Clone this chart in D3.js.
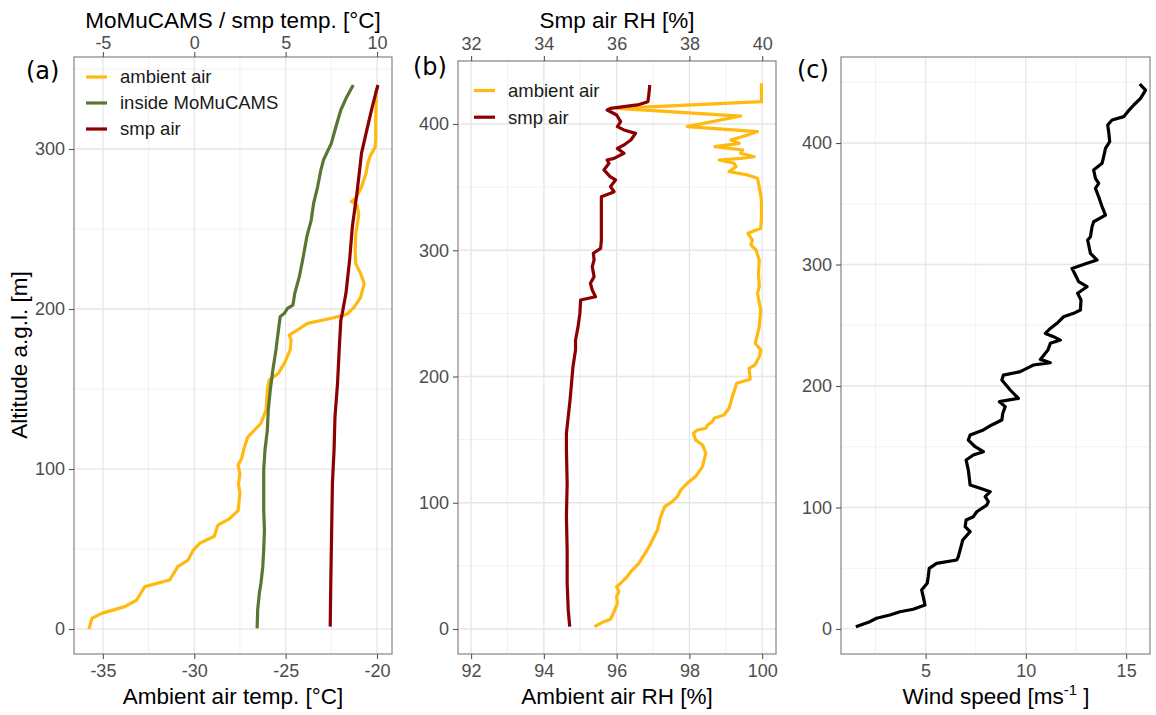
<!DOCTYPE html>
<html>
<head>
<meta charset="utf-8">
<script src="https://cdn.jsdelivr.net/npm/d3@7"></script>
<style>
  body { margin: 0; background: #fff; }
  svg { font-family: "Liberation Sans", Arial, sans-serif; }
</style>
</head>
<body>
<svg id="chart" width="1156" height="715"></svg>
<script>
// ---- data: [altitude m, value] ----
// panel (a) ambient temp, bottom axis units (°C)
const ambientTemp = [
  [0,-35.76],[6.7,-35.6],[9.8,-35.07],[14,-33.8],[18,-33.16],[26.5,-32.7],[30.6,-31.35],
  [39,-30.9],[43,-30.35],[49,-30.07],[53.6,-29.7],[58,-28.9],[61.9,-28.8],[65,-28.7],
  [69,-28.07],[74,-27.6],[84.8,-27.5],[91,-27.58],[97,-27.5],[102.5,-27.6],[106.7,-27.4],
  [112,-27.3],[120,-27.07],[124.4,-26.7],[128.6,-26.35],[137,-26.07],[149.4,-26.0],
  [155.6,-25.9],[159.8,-25.4],[166,-25.07],[174.4,-24.75],[180.6,-24.7],[183.7,-24.8],
  [185.8,-24.5],[191,-23.8],[194.2,-22.5],[196.2,-21.8],[197.2,-21.6],[201.2,-21.25],
  [207.2,-20.9],[216,-20.7],[222.2,-20.9],[228.2,-21.16],[236.8,-21.2],[247.2,-21.16],
  [253.2,-21.07],[259.2,-21.0],[265,-21.1],[267.2,-21.4],[269.2,-21.16],[276.2,-20.85],
  [284.8,-20.6],[291.2,-20.5],[296.2,-20.35],[301.2,-20.1],[307.2,-20.07],[318.2,-20.07],
  [330.2,-20.04],[335.8,-20.07],[338.9,-19.95]
];
// panel (a) inside MoMuCAMS, top axis units (°C)
const momucamsTemp = [
  [0.4,3.44],[11.9,3.47],[22.3,3.56],[28.6,3.65],[39,3.75],[49.4,3.8],[61.9,3.84],
  [74.4,3.8],[86.9,3.8],[99.4,3.8],[111.9,3.87],[124.4,4.0],[136.9,4.05],[149.4,4.16],
  [161.9,4.3],[174.4,4.47],[182.7,4.56],[195.2,4.7],[197.3,4.93],[200.4,5.1],[202.5,5.4],
  [209.8,5.5],[220.2,5.75],[230.6,5.93],[245.2,6.16],[255.6,6.4],[266,6.53],[276.4,6.75],
  [286.9,6.93],[293.1,7.07],[303.5,7.5],[313.9,7.75],[324.4,8.02],[332.7,8.35],[340,8.7]
];
// panel (a) smp air, top axis units (°C)
const smpTemp = [
  [1.5,7.44],[28.6,7.47],[49.4,7.5],[70.2,7.53],[91,7.56],[111.9,7.65],[132.7,7.7],
  [153.6,7.84],[174.4,7.93],[193.1,8.02],[197.3,8.1],[209.8,8.3],[230.6,8.5],[251.4,8.65],
  [272.3,8.9],[289,9.07],[297.3,9.15],[309.8,9.4],[324.4,9.7],[334.8,9.93],[340,10.05]
];
// panel (b) ambient RH, bottom axis units (%)
const ambientRH = [
  [1.9,95.39],[5.8,95.65],[7.7,95.83],[13.7,95.93],[20.3,96.02],[25.6,96.0],[29.6,96.06],
  [33.5,96.0],[36.2,96.11],[41.5,96.29],[45.4,96.39],[52,96.61],[62.6,96.84],[67.9,96.94],
  [78.4,97.12],[89,97.21],[96.9,97.32],[100.9,97.53],[104.8,97.67],[110.1,97.76],
  [115.4,97.94],[120.7,98.17],[128.6,98.36],[139.2,98.45],[145.8,98.36],[149.7,98.17],
  [155,98.11],[157.6,98.22],[159,98.45],[161.6,98.5],[164.2,98.63],[166.9,98.68],
  [169.5,98.95],[174.8,99.09],[184,99.18],[194.6,99.3],[197.8,99.67],[206.5,99.64],
  [209.1,99.8],[215.7,99.92],[221,99.96],[226.3,99.81],[239.5,99.92],[252.7,99.96],
  [265.9,99.87],[271.2,99.92],[281.7,99.9],[292.3,99.92],[300.2,99.83],[304.2,99.69],
  [308.1,99.73],[313.4,99.61],[317.4,99.96],[326.6,99.98],[339.8,99.98],[350.4,99.92],
  [357,99.87],[359.6,99.6],[362.3,99.09],[366.2,99.28],[368.9,99.23],[371.5,98.82],
  [372.8,99.41],[374.1,99.78],[376.8,99.41],[379.4,99.46],[382.1,98.7],[384.7,99.37],
  [387.3,99.14],[391.3,99.6],[394,99.87],[397.9,97.94],[406.3,99.41],[412.4,96.02],
  [417.7,99.98],[432.2,99.98]
];
// panel (b) smp air RH, top axis units (%)
const smpRH = [
  [1.9,34.71],[15.1,34.67],[36.2,34.64],[62.6,34.64],[89,34.62],[115.4,34.64],[141.8,34.62],
  [155,34.62],[168.2,34.67],[181.4,34.72],[194.6,34.76],[207.8,34.8],[221,34.87],
  [228.9,34.87],[239.5,34.94],[250,34.99],[260.6,35.01],[263.2,35.42],[268.5,35.33],
  [273.8,35.28],[279.1,35.38],[287,35.33],[292.3,35.38],[297.6,35.36],[301.5,35.56],
  [308.1,35.58],[318.7,35.58],[331.9,35.58],[342.4,35.58],[345.1,35.83],[346.4,35.93],
  [350.4,35.83],[355.7,35.97],[358.3,35.82],[363.6,35.65],[368.9,35.79],[371.5,35.74],
  [372.8,35.93],[376.8,36.2],[380.7,36.02],[383.4,36.2],[387.3,36.39],[392.6,36.52],
  [395.3,36.2],[397.9,36.02],[401.9,36.11],[407.1,36.0],[411.1,35.74],[412.4,35.83],
  [415.1,36.57],[417.7,36.86],[424.3,36.89],[430.9,36.91]
];
// panel (c) wind speed (m/s)
const windSpeed = [
  [1.9,1.52],[6,2.22],[8.8,2.55],[11.5,3.22],[14.2,3.72],[16.2,4.38],[19.7,4.97],[26.6,4.88],
  [32.1,4.8],[37.6,5.08],[43,5.13],[49.9,5.18],[54,5.55],[56.8,6.55],[59.5,6.63],[65,6.72],
  [73.2,6.85],[80.1,7.22],[84.2,6.97],[89.7,7.02],[92.4,7.38],[96.5,7.55],[102,8.05],
  [104.8,8.13],[108.9,7.97],[113,8.22],[115.8,7.72],[118.5,7.22],[130.8,7.13],[139.1,7.02],
  [143.2,7.38],[145.9,7.88],[150,7.47],[155.5,7.13],[159.6,7.22],[163.8,7.88],[167.9,8.3],
  [172,8.8],[177.5,8.85],[183,8.97],[187.1,8.68],[189.8,9.63],[196.7,9.22],[204.9,8.8],
  [209,8.88],[211.8,9.72],[215.9,10.22],[217.3,10.38],[219.2,11.22],[221.9,10.72],
  [229.6,11.1],[235.1,11.22],[237.8,11.72],[240.6,11.38],[243.3,10.97],[247.4,11.22],
  [251.6,11.55],[257,11.88],[259.8,12.38],[262.5,12.72],[270.8,12.75],[276.3,12.58],
  [281.7,13.05],[285.9,12.63],[291.3,12.47],[296.8,12.3],[301,13.05],[303.7,13.55],
  [309.2,13.22],[320.2,13.08],[322.9,13.22],[331.1,13.3],[335.2,13.38],[340.7,13.97],
  [347.6,13.8],[355.8,13.63],[362.7,13.47],[366.8,13.63],[370.9,13.47],[377.8,13.38],
  [383.3,13.8],[388.7,13.88],[395.6,13.97],[401.1,14.18],[409.3,14.13],[414.8,14.08],
  [418.9,14.3],[421.7,14.88],[425.8,15.08],[431.3,15.38],[436.8,15.72],[443.6,15.97],
  [446.4,15.8],[448.6,15.68]
];

// ---- tick labels ----
const tempTicks = [-35, -30, -25, -20];
const tempMinor = [-32.5, -27.5, -22.5];
const momucamsTicks = [-5, 0, 5, 10];
const rhTicks = [92, 94, 96, 98, 100];
const rhMinor = [93, 95, 97, 99];
const smpRhTicks = [32, 34, 36, 38, 40];
const windTicks = [5, 10, 15];
const windMinor = [2.5, 7.5, 12.5];
const altTicksA = [0, 100, 200, 300];
const altMinorA = [50, 150, 250, 350];
const altTicksB = [0, 100, 200, 300, 400];
const altMinorB = [50, 150, 250, 350, 450];

const colAmbient = "#FFB90F", colInside = "#5B7633", colSmp = "#8B0000";

const svg = d3.select("#chart");
svg.append("rect").attr("width", 1156).attr("height", 715).attr("fill", "#fff");

// scales
const xa = d3.scaleLinear().domain([-36.58, -19.18]).range([74, 392]);
const xaTop = d3.scaleLinear().domain([-6.58, 10.82]).range([74, 392]);
const ya = d3.scaleLinear().domain([-15.6, 357.5]).range([654, 57]);

const xb = d3.scaleLinear().domain([91.64, 100.38]).range([458, 776]);
const xbTop = d3.scaleLinear().domain([31.64, 40.38]).range([458, 776]);
const yb = d3.scaleLinear().domain([-19.8, 449.9]).range([654, 61]);

const xc = d3.scaleLinear().domain([0.78, 16.19]).range([841, 1150]);
const yc = d3.scaleLinear().domain([-20.6, 470.8]).range([654, 57]);

const fmt = d => String(d);

function panel(x, y, xMaj, xMin, yMaj, yMin) {
  const g = svg.append("g");
  const [x0, x1] = x.range(), [y1, y0] = y.range();
  g.selectAll(".vmin").data(xMin).join("line")
    .attr("x1", d => x(d)).attr("x2", d => x(d)).attr("y1", y0).attr("y2", y1)
    .attr("stroke", "#f1f1f1").attr("stroke-width", 1);
  g.selectAll(".hmin").data(yMin).join("line")
    .attr("y1", d => y(d)).attr("y2", d => y(d)).attr("x1", x0).attr("x2", x1)
    .attr("stroke", "#f1f1f1").attr("stroke-width", 1);
  g.selectAll(".vmaj").data(xMaj).join("line")
    .attr("x1", d => x(d)).attr("x2", d => x(d)).attr("y1", y0).attr("y2", y1)
    .attr("stroke", "#e6e6e6").attr("stroke-width", 1.3);
  g.selectAll(".hmaj").data(yMaj).join("line")
    .attr("y1", d => y(d)).attr("y2", d => y(d)).attr("x1", x0).attr("x2", x1)
    .attr("stroke", "#e6e6e6").attr("stroke-width", 1.3);
  return g;
}

function styleAxis(g) {
  g.select(".domain").remove();
  g.selectAll(".tick line").attr("stroke", "#555").attr("stroke-width", 1.1);
  g.selectAll(".tick text").attr("fill", "#4d4d4d").style("font-size", "18px")
    .style("font-family", "'Liberation Sans', Arial, sans-serif");
}

function border(x, y) {
  const [x0, x1] = x.range(), [y1, y0] = y.range();
  svg.append("rect").attr("x", x0).attr("y", y0).attr("width", x1 - x0).attr("height", y1 - y0)
    .attr("fill", "none").attr("stroke", "#858585").attr("stroke-width", 1.2);
}

function drawLine(data, x, y, color) {
  svg.append("path").datum(data)
    .attr("fill", "none").attr("stroke", color).attr("stroke-width", 3.2)
    .attr("stroke-linejoin", "round").attr("stroke-linecap", "butt")
    .attr("d", d3.line().x(d => x(d[1])).y(d => y(d[0])));
}

function legend(items, kx, ky, step) {
  items.forEach((it, i) => {
    svg.append("line").attr("x1", kx).attr("x2", kx + 21)
      .attr("y1", ky + i * step).attr("y2", ky + i * step)
      .attr("stroke", it[1]).attr("stroke-width", 3.2);
    svg.append("text").attr("x", kx + 34).attr("y", ky + i * step).attr("dy", "0.35em")
      .style("font-size", "18.5px").attr("fill", "#1a1a1a").text(it[0]);
  });
}

function title(txt, x, y, rot) {
  const t = svg.append("text").attr("text-anchor", "middle").style("font-size", "22.5px")
    .attr("fill", "#000").text(txt);
  if (rot) t.attr("transform", `translate(${x},${y}) rotate(-90)`);
  else t.attr("x", x).attr("y", y);
  return t;
}

function tag(txt, x, y) {
  svg.append("text").attr("x", x).attr("y", y).style("font-size", "24px")
    .style("font-family", "'DejaVu Sans', sans-serif").attr("fill", "#000").text(txt);
}

// ---- panel (a) ----
panel(xa, ya, tempTicks, tempMinor, altTicksA, altMinorA);
drawLine(ambientTemp, xa, ya, colAmbient);
drawLine(momucamsTemp, xaTop, ya, colInside);
drawLine(smpTemp, xaTop, ya, colSmp);
border(xa, ya);
styleAxis(svg.append("g").attr("transform", "translate(0,654)")
  .call(d3.axisBottom(xa).tickValues(tempTicks).tickFormat(fmt).tickSize(5).tickPadding(5)));
styleAxis(svg.append("g").attr("transform", "translate(0,57)")
  .call(d3.axisTop(xaTop).tickValues(momucamsTicks).tickFormat(fmt).tickSize(5).tickPadding(3)));
styleAxis(svg.append("g").attr("transform", "translate(74,0)")
  .call(d3.axisLeft(ya).tickValues(altTicksA).tickFormat(fmt).tickSize(5).tickPadding(4)));
legend([["ambient air", colAmbient], ["inside MoMuCAMS", colInside], ["smp air", colSmp]], 86, 77, 26);
title("Ambient air temp. [°C]", 233, 704);
title("MoMuCAMS / smp temp. [°C]", 233, 28);
title("Altitude a.g.l. [m]", 27, 355, true);
tag("(a)", 26, 79);

// ---- panel (b) ----
panel(xb, yb, rhTicks, rhMinor, altTicksB, altMinorB);
drawLine(ambientRH, xb, yb, colAmbient);
drawLine(smpRH, xbTop, yb, colSmp);
border(xb, yb);
styleAxis(svg.append("g").attr("transform", "translate(0,654)")
  .call(d3.axisBottom(xb).tickValues(rhTicks).tickFormat(fmt).tickSize(5).tickPadding(5)));
styleAxis(svg.append("g").attr("transform", "translate(0,61)")
  .call(d3.axisTop(xbTop).tickValues(smpRhTicks).tickFormat(fmt).tickSize(5).tickPadding(6)));
styleAxis(svg.append("g").attr("transform", "translate(458,0)")
  .call(d3.axisLeft(yb).tickValues(altTicksB).tickFormat(fmt).tickSize(5).tickPadding(4)));
legend([["ambient air", colAmbient], ["smp air", colSmp]], 474, 90.5, 26.7);
title("Ambient air RH [%]", 617, 704);
title("Smp air RH [%]", 617, 28);
tag("(b)", 413, 75);

// ---- panel (c) ----
panel(xc, yc, windTicks, windMinor, altTicksB, altMinorB);
drawLine(windSpeed, xc, yc, "#000");
border(xc, yc);
styleAxis(svg.append("g").attr("transform", "translate(0,654)")
  .call(d3.axisBottom(xc).tickValues(windTicks).tickFormat(fmt).tickSize(5).tickPadding(5)));
styleAxis(svg.append("g").attr("transform", "translate(841,0)")
  .call(d3.axisLeft(yc).tickValues(altTicksB).tickFormat(fmt).tickSize(5).tickPadding(4)));
const wt = title("", 996, 704);
wt.append("tspan").text("Wind speed [ms");
wt.append("tspan").attr("dy", -9).style("font-size", "15px").text("-1");
wt.append("tspan").attr("dy", 9).text(" ]");
tag("(c)", 797, 78);
</script>
</body>
</html>
